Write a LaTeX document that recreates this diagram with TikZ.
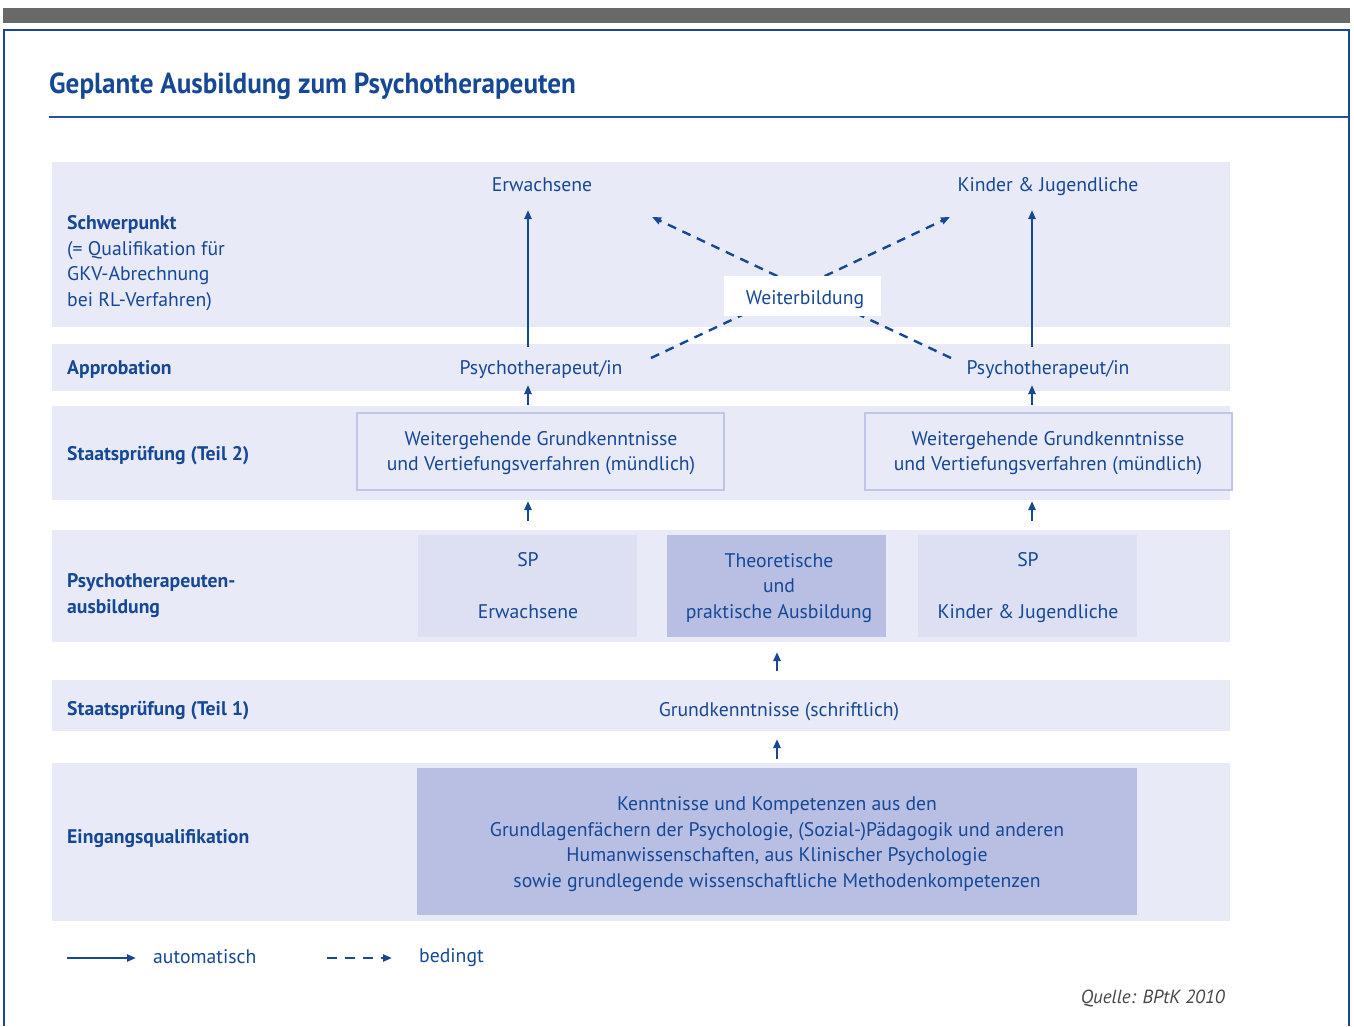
\documentclass[tikz,border=0pt]{standalone}
\usepackage{fontspec}
\setmainfont{PT Sans}
\newfontfamily\titlefont[FakeStretch=0.936]{PT Sans}
\usetikzlibrary{arrows.meta}
\definecolor{dblue}{RGB}{22,72,150}
\definecolor{lineblue}{RGB}{40,80,160}
\definecolor{bandc}{RGB}{232,234,247}
\definecolor{boxmid}{RGB}{221,224,243}
\definecolor{boxdark}{RGB}{185,191,227}
\definecolor{boxline}{RGB}{192,198,232}
\definecolor{greybar}{RGB}{105,105,105}
\definecolor{quell}{RGB}{70,70,70}
\begin{document}
\begin{tikzpicture}[x=1pt,y=-1pt,
  every node/.style={text=dblue, font=\fontsize{19.7}{25.5}\selectfont, inner sep=0pt},
  lbl/.style={anchor=west, align=left, font=\fontsize{19.7}{25.5}\selectfont\bfseries},
  lblone/.style={anchor=base west, font=\fontsize{19.7}{25.5}\selectfont\bfseries},
  one/.style={anchor=base},
  autoarrow/.style={draw=dblue, line width=2.4pt, -{Triangle[length=9pt,width=7pt]}},
  condarrow/.style={autoarrow, dash pattern=on 9pt off 7pt},
  boxa/.style={draw=boxline, line width=2pt, fill=bandc, minimum width=367, minimum height=77, align=center},
  boxb/.style={fill=boxmid, minimum width=219, minimum height=102, align=center},
  boxc/.style={fill=boxdark, minimum width=219, minimum height=102, align=center},
]
\useasboundingbox (0,0) rectangle (1354,1026);
% frame
\fill[greybar] (3,8) rectangle (1350,23);
\draw[dblue, line width=1.5pt] (4,1026) -- (4,30) -- (1349,30) -- (1349,1026);
\node[anchor=base west, font=\fontsize{29}{34}\selectfont\titlefont\bfseries] (title) at (49,93) {Geplante Ausbildung zum Psychotherapeuten};
\draw[lineblue, line width=1.5pt] (49,117) -- (1349,117);
% bands
\fill[bandc] (52,162) rectangle (1230,327);
\fill[bandc] (52,344) rectangle (1230,391);
\fill[bandc] (52,406) rectangle (1230,500);
\fill[bandc] (52,530) rectangle (1230,642);
\fill[bandc] (52,680) rectangle (1230,731);
\fill[bandc] (52,763) rectangle (1230,921);
% row labels
\node[lbl, font=\fontsize{19.7}{25.5}\selectfont] (l1) at (67,263) {\textbf{Schwerpunkt}\\(= Qualifikation für\\GKV-Abrechnung\\bei RL-Verfahren)};
\node[lblone] (l2) at (67,374) {Approbation};
\node[lblone] (l3) at (67,460) {Staatsprüfung (Teil 2)};
\node[lbl] (l4) at (67,595.5) {Psychotherapeuten-\\ausbildung};
\node[lblone] (l5) at (67,715) {Staatsprüfung (Teil 1)};
\node[lblone] (l6) at (67,843) {Eingangsqualifikation};
% top texts
\node[one] (erw) at (542,191) {Erwachsene};
\node[one] (kj) at (1048,191) {Kinder \& Jugendliche};
\node[one] (ptL) at (541,374) {Psychotherapeut/in};
\node[one] (ptR) at (1048,374) {Psychotherapeut/in};
% dashed crossing arrows
\coordinate (dLL) at (651,358);
\coordinate (dUR) at (950,217);
\coordinate (dLR) at (951,358);
\coordinate (dUL) at (652,217);
\draw[condarrow] (dLL) -- (dUR);
\draw[condarrow] (dLR) -- (dUL);
\node[fill=white, minimum width=157, minimum height=40] (wb) at (802.5,296) {};
\node[one] (wbt) at (805,304) {Weiterbildung};
% long solid arrows
\coordinate (sL) at (528,347);
\coordinate (eL) at (528,210);
\coordinate (sR) at (1032,347);
\coordinate (eR) at (1032,210);
\draw[autoarrow] (sL) -- (eL);
\draw[autoarrow] (sR) -- (eR);
% Staatspruefung Teil 2
\node[boxa] (t2L) at (540.5,451.5) {};
\node[align=center] (t2Lt) at (541,453) {Weitergehende Grundkenntnisse\\und Vertiefungsverfahren (mündlich)};
\node[boxa] (t2R) at (1048.5,451.5) {};
\node[align=center] (t2Rt) at (1048,453) {Weitergehende Grundkenntnisse\\und Vertiefungsverfahren (mündlich)};
% Ausbildung
\node[boxb] (spL) at (527.5,586) {};
\node[one] (spLa) at (528,566) {SP};
\node[one] (spLb) at (528,618) {Erwachsene};
\node[boxc] (th) at (776.5,586) {};
\node[align=center] (tht) at (779,588) {Theoretische\\und\\praktische Ausbildung};
\node[boxb] (spR) at (1027.5,586) {};
\node[one] (spRa) at (1028,566) {SP};
\node[one] (spRb) at (1028,618) {Kinder \& Jugendliche};
% Teil 1
\node[one] (gk) at (779,716) {Grundkenntnisse (schriftlich)};
% Eingang
\node[fill=boxdark, minimum width=720, minimum height=147] (ein) at (777,841.5) {};
\node[align=center] (eint) at (777,844) 
  {Kenntnisse und Kompetenzen aus den\\Grundlagenfächern der Psychologie, (Sozial-)Pädagogik und anderen\\Humanwissenschaften, aus Klinischer Psychologie\\sowie grundlegende wissenschaftliche Methodenkompetenzen};
% small arrows
\coordinate (a1s) at (528,405); \coordinate (a1e) at (528,385);
\coordinate (a2s) at (1032,405); \coordinate (a2e) at (1032,385);
\coordinate (a3s) at (528,521); \coordinate (a3e) at (528,501);
\coordinate (a4s) at (1032,521); \coordinate (a4e) at (1032,501);
\coordinate (a5s) at (777,671); \coordinate (a5e) at (777,652);
\coordinate (a6s) at (777,759); \coordinate (a6e) at (777,739);
\foreach \s/\e in {a1s/a1e,a2s/a2e,a3s/a3e,a4s/a4e,a5s/a5e,a6s/a6e}
  \draw[autoarrow] (\s) -- (\e);
% legend
\coordinate (lg1s) at (67,958); \coordinate (lg1e) at (136,958);
\coordinate (lg2s) at (327,958); \coordinate (lg2e) at (392,958);
\draw[autoarrow] (lg1s) -- (lg1e);
\draw[condarrow, dash pattern=on 10pt off 8pt] (lg2s) -- (lg2e);
\node[anchor=base west] (lga) at (153,963) {automatisch};
\node[anchor=base west] (lgb) at (419,962) {bedingt};
% source
\node[anchor=base east, text=quell, font=\fontsize{19}{22}\selectfont\itshape] (src) at (1225,1003) {Quelle: BPtK 2010};
\end{tikzpicture}
\end{document}
